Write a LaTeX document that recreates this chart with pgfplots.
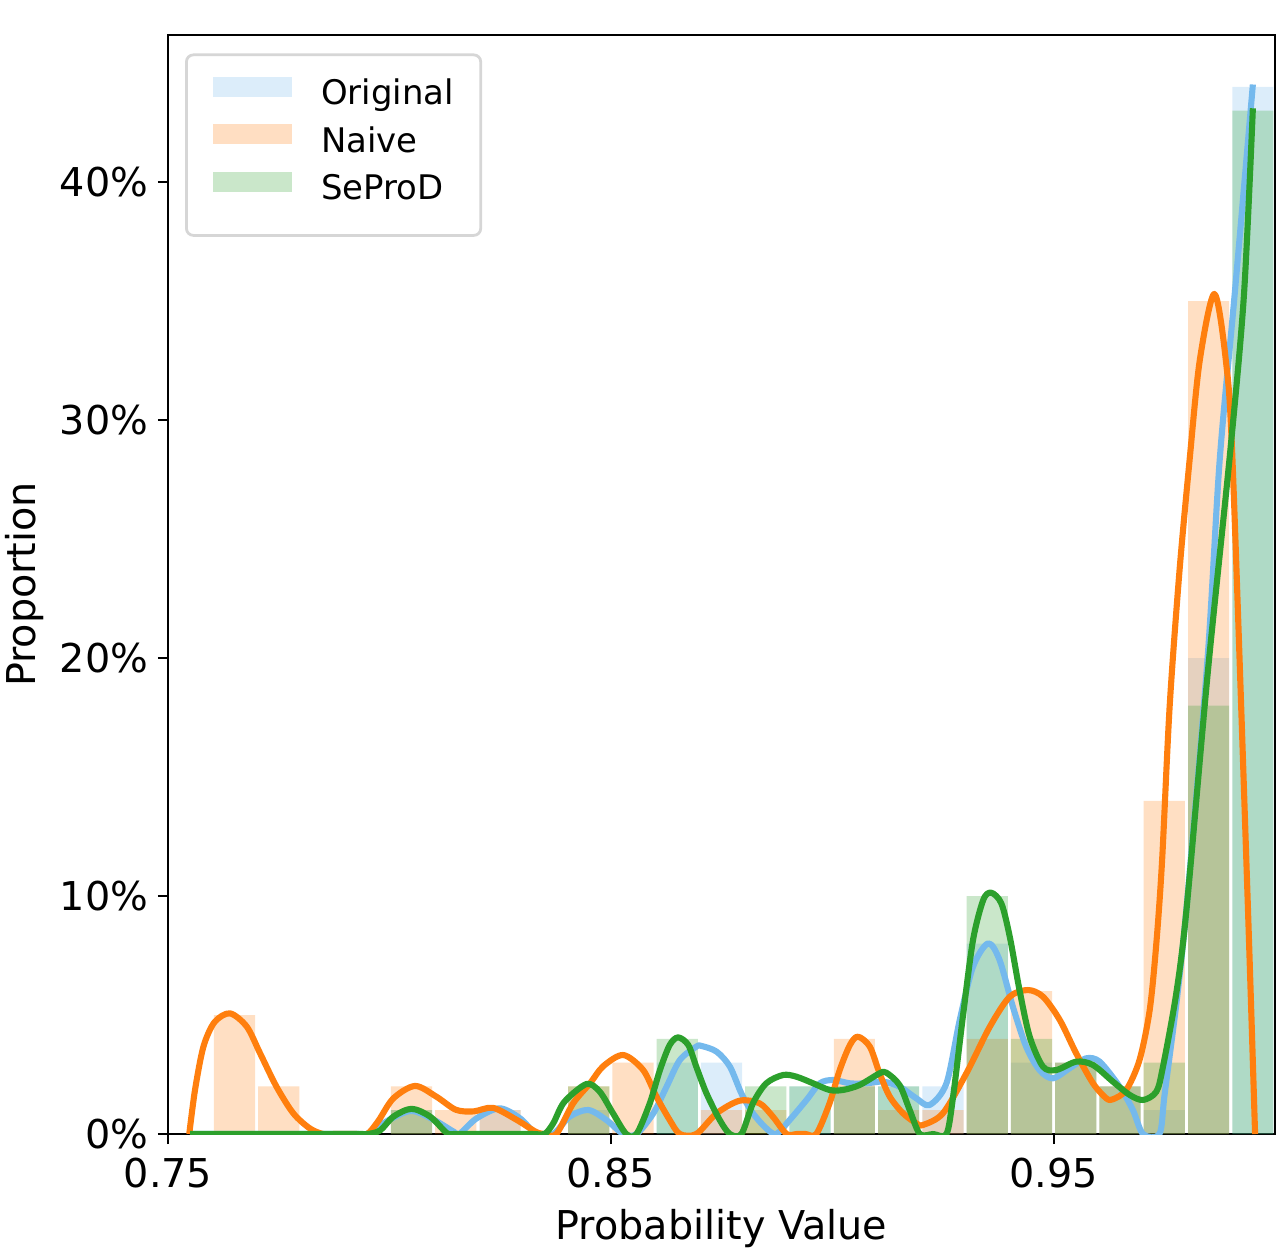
\documentclass[border=0pt]{standalone}
\usepackage{fontspec}
\setmainfont{DejaVu Sans}
\usepackage{pgfplots}
\pgfplotsset{compat=1.18}
\definecolor{cblue}{RGB}{116,185,237}
\definecolor{corange}{RGB}{255,127,14}
\definecolor{cgreen}{RGB}{44,160,44}
\begin{document}
\begin{tikzpicture}
\useasboundingbox (-60.48pt,-42.48pt) rectangle (401.76pt,408.24pt);
\begin{axis}[
  at={(0,0)}, anchor=south west,
  scale only axis, width=398.52pt, height=395.64pt,
  xmin=0.75, xmax=1.0, ymin=0, ymax=46.18,
  axis line style={line width=0.8pt},
  every tick/.style={black, line width=0.8pt},
  tick align=outside, major tick length=3.6pt,
  xtick pos=bottom, ytick pos=left,
  xtick={0.75,0.85,0.95}, xticklabels={0.75,0.85,0.95},
  ytick={0,10,20,30,40}, yticklabel={\pgfmathprintnumber{\tick}\%},
  /pgf/number format/assume math mode=true,
  tick label style={font=\fontsize{14.3pt}{17pt}\selectfont},
  xticklabel style={anchor=base, inner sep=0pt, yshift=-15.7pt},
  yticklabel style={anchor=east, inner sep=0pt, xshift=-3.3pt},
  label style={font=\fontsize{14.3pt}{17pt}\selectfont},
  xlabel={Probability Value}, ylabel={Proportion},
  xlabel style={at={(axis description cs:0.5,-0.09554)}, anchor=base, inner sep=0pt},
  ylabel style={at={(axis description cs:-0.11924,0.5)}, anchor=base, inner sep=0pt},
  legend cell align=left,
  legend style={
    at={(rel axis cs:0.0154,0.9832)}, anchor=north west,
    draw=black!16, line width=1pt, rounded corners=2.5pt, fill=white,
    font=\fontsize{12.2pt}{14.6pt}\selectfont,
    inner xsep=9.7pt, inner ysep=8pt, row sep=2pt,
    nodes={inner sep=0pt, text height=8.9pt, text depth=5pt},
    /tikz/every odd column/.append style={column sep=10.4pt},
  },
]
% bars
\addplot[ybar, bar width=0.0093, bar shift=0pt, fill=cblue, fill opacity=0.25, draw=none,
  legend image code/.code={\fill[cblue, fill opacity=0.25, sharp corners] (0pt,0.85pt) rectangle (28.4pt,8.05pt);}]
 coordinates {(0.805,1) (0.825,1) (0.845,1) (0.865,3) (0.875,3) (0.895,2) (0.905,2) (0.915,2) (0.925,2) (0.935,8) (0.945,3) (0.955,3) (0.965,2) (0.975,1) (0.985,20) (0.995,44)};
\addlegendentry{Original}
\addplot[ybar, bar width=0.0093, bar shift=0pt, fill=corange, fill opacity=0.25, draw=none,
  legend image code/.code={\fill[corange, fill opacity=0.25, sharp corners] (0pt,0.85pt) rectangle (28.4pt,8.05pt);}]
 coordinates {(0.765,5) (0.775,2) (0.805,2) (0.815,1) (0.825,1) (0.845,2) (0.855,3) (0.875,1) (0.885,1) (0.905,4) (0.915,1) (0.925,1) (0.935,4) (0.945,6) (0.955,3) (0.965,2) (0.975,14) (0.985,35)};
\addlegendentry{Naive}
\addplot[ybar, bar width=0.0093, bar shift=0pt, fill=cgreen, fill opacity=0.25, draw=none,
  legend image code/.code={\fill[cgreen, fill opacity=0.25, sharp corners] (0pt,0.85pt) rectangle (28.4pt,8.05pt);}]
 coordinates {(0.805,1) (0.845,2) (0.865,4) (0.885,2) (0.895,2) (0.905,2) (0.915,2) (0.935,10) (0.945,4) (0.955,3) (0.965,2) (0.975,3) (0.985,18) (0.995,43)};
\addlegendentry{SeProD}
% curves
\addplot[cblue, line width=2.2pt, smooth, line join=round, forget plot] coordinates {
(0.755,0) (0.792,0) (0.7948,0) (0.800,0.6) (0.805,0.97) (0.810,0.6) (0.8145,0.1) (0.8159,0.02)
(0.8197,0.66) (0.8249,1.08) (0.8295,0.66) (0.8332,0) (0.837,0)
(0.8407,0.73) (0.8449,1.01) (0.849,0.59) (0.8528,0) (0.8558,0)
(0.8596,0.87) (0.8626,1.99) (0.8656,3.11) (0.8693,3.67) (0.8705,3.7) (0.8739,3.46) (0.8769,2.83)
(0.8795,1.7) (0.8821,0.87) (0.8851,0.24) (0.8874,0) (0.8904,0.59) (0.8942,1.43) (0.8972,2.13)
(0.9002,2.27) (0.904,2.13) (0.9077,2.13) (0.9115,2.2) (0.9152,1.99) (0.919,1.5) (0.922,1.22)
(0.9258,2.13) (0.9288,4.79) (0.9318,7.03) (0.9352,8.01) (0.9378,7.31) (0.9408,5.35) (0.9438,3.67)
(0.9468,2.69) (0.9498,2.34) (0.9536,2.76) (0.9573,3.18) (0.9604,3.04) (0.9649,1.99) (0.9679,1.01)
(0.9702,0) (0.9739,0) (0.9751,1.71) (0.978,5.91) (0.9803,10.1) (0.9848,20.06) (0.9875,28.3)
(0.9909,35.3) (0.995,44.1)};
\addplot[corange, line width=2.2pt, smooth, line join=round, forget plot] coordinates {
(0.7548,0) (0.7561,1.85) (0.758,3.67) (0.7605,4.7) (0.764,5.07) (0.7678,4.51) (0.7708,3.39)
(0.7745,1.99) (0.7783,0.87) (0.782,0.24) (0.785,0) (0.7875,0) (0.7925,0) (0.795,0)
(0.7975,0.55) (0.8009,1.5) (0.8058,2.02) (0.8106,1.57) (0.815,1.02) (0.819,0.95) (0.8234,1.1)
(0.8287,0.6) (0.833,0.1) (0.835,0) (0.8377,0) (0.8415,1.29) (0.8453,2.13) (0.8483,2.85)
(0.8528,3.32) (0.8573,2.69) (0.8603,1.57) (0.8633,0.59) (0.8656,0) (0.8693,0) (0.8739,0.87)
(0.8791,1.4) (0.8836,1.29) (0.8866,0.73) (0.8897,0) (0.892,0) (0.894,0) (0.8964,0) (0.8994,1.29) (0.9017,2.69)
(0.904,3.74) (0.9058,4.09) (0.9085,3.67) (0.9107,2.55) (0.913,1.57) (0.916,0.87) (0.919,0.45)
(0.9205,0.38) (0.925,0.87) (0.9303,2.55) (0.9356,4.51) (0.9401,5.77) (0.9442,6.05) (0.9476,5.77)
(0.9514,4.79) (0.9551,3.39) (0.9589,2.13) (0.9619,1.5) (0.9634,1.46) (0.9664,1.85) (0.9694,3.11)
(0.9717,5.21) (0.9732,8.01) (0.9745,11.5) (0.9762,17.95) (0.9784,23.6) (0.9807,28.3) (0.983,32.5)
(0.9863,35.3) (0.9889,32.5) (0.9904,28.3) (0.99375,10.25) (0.9955,0)};
\addplot[cgreen, line width=2.2pt, smooth, line join=round, forget plot] coordinates {
(0.755,0) (0.792,0) (0.795,0) (0.7979,0.15) (0.8009,0.73) (0.805,1.06) (0.8092,0.73) (0.8129,0.05) (0.8145,0)
(0.8175,0) (0.832,0) (0.835,0) (0.837,0.45) (0.8395,1.35) (0.8445,2.1) (0.8475,1.78) (0.8505,0.87) (0.8535,0) (0.8558,0)
(0.8588,1.29) (0.8611,2.69) (0.8633,3.74) (0.8652,4.06) (0.8675,3.74) (0.8693,2.83) (0.8716,1.71)
(0.8746,0.59) (0.8769,0) (0.8795,0) (0.8821,1.29) (0.8851,2.13) (0.8889,2.48) (0.8919,2.41)
(0.8957,2.13) (0.8994,1.85) (0.9024,1.85) (0.9062,2.06) (0.9107,2.55) (0.9122,2.58) (0.9152,2.06)
(0.9175,1.01) (0.9198,0) (0.9228,0) (0.9258,0) (0.9273,1.57) (0.9296,5.07) (0.9318,8.15) (0.9341,9.83)
(0.9359,10.14) (0.9382,9.69) (0.9401,8.29) (0.9423,6.05) (0.9446,4.09) (0.9476,2.83) (0.9506,2.69)
(0.9551,3.04) (0.9589,2.9) (0.9634,2.2) (0.9672,1.64) (0.9702,1.43) (0.9732,1.78) (0.9747,2.83)
(0.9777,5.91) (0.98,9.41) (0.9848,19.36) (0.98995,28.8) (0.993,35.3) (0.995,43.1)};
\end{axis}
\end{tikzpicture}
\end{document}
